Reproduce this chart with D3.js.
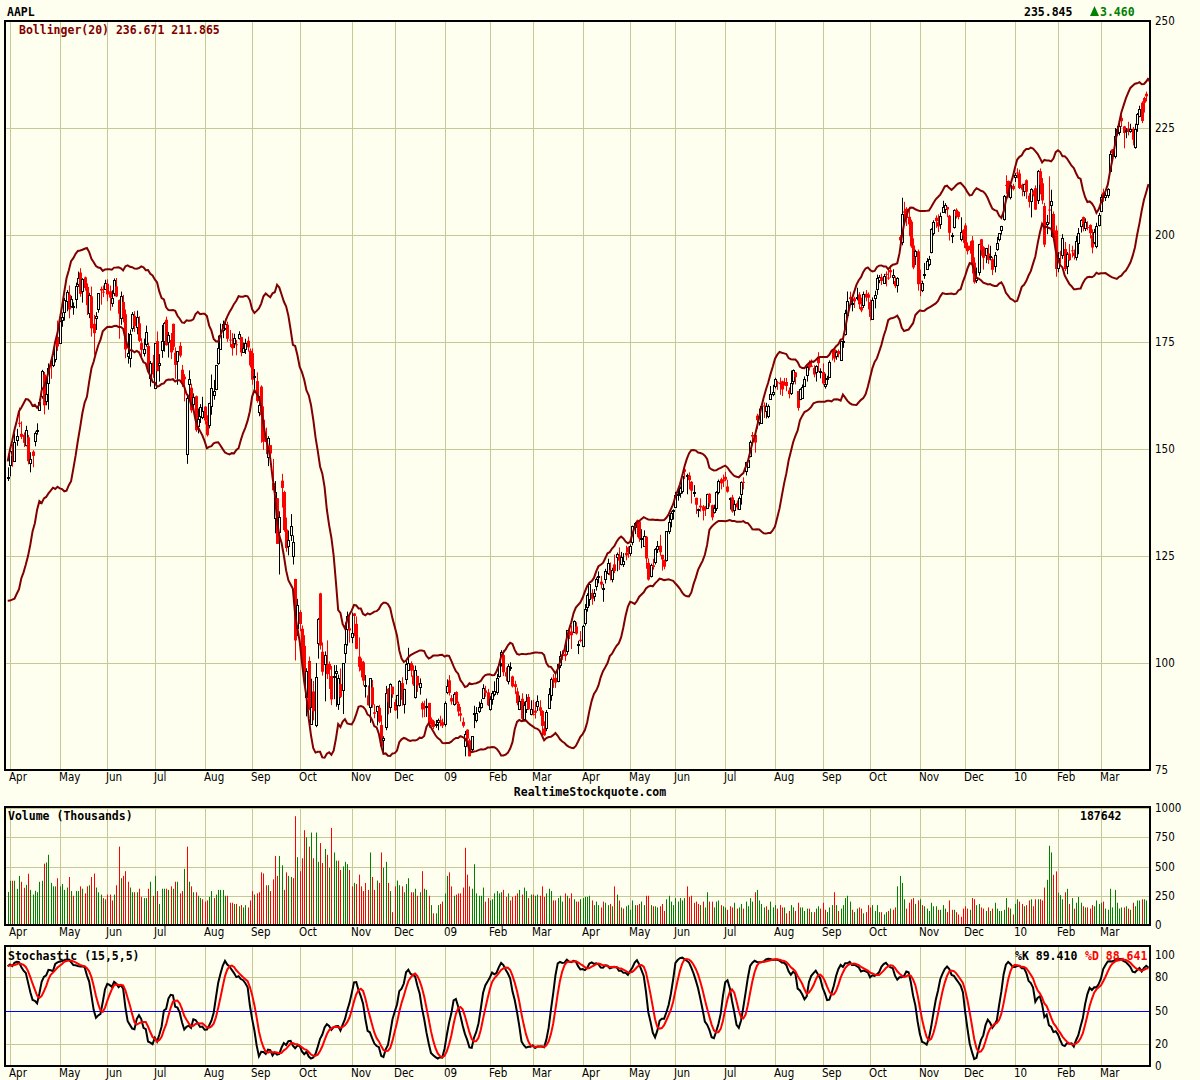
<!DOCTYPE html>
<html><head><meta charset="utf-8">
<script src="https://cdn.jsdelivr.net/npm/d3@7"></script>
<style>body{margin:0;background:#fffff0;}svg{display:block}</style>
</head><body>
<svg id="chart" width="1200" height="1080"></svg>
<script>
// ---------- DATA : [open, high, low, close, volume (x100k shares)] ----------
// warm-up days (Feb 25 - Mar 28 2008), used only for the indicators, not drawn
const warmup = [
[118.59,120.17,115.54,119.74],[117.64,121.09,115.44,119.15],[118.23,123.05,118.09,122.96],[122.28,129.98,121.73,129.91],[129.29,130.21,124.80,125.02],
[124.44,125.98,118.00,121.73],[121.99,124.88,120.40,124.62],[123.58,125.14,122.25,124.49],[124.61,127.50,120.81,120.93],[120.41,122.98,119.05,122.25],
[121.98,123.46,119.37,119.69],[124.10,127.48,122.00,127.35],[127.04,128.68,125.17,126.03],[124.10,129.50,123.00,127.94],[129.88,130.30,124.20,126.61],
[122.55,128.59,122.55,126.73],[129.18,133.00,128.67,132.82],[133.12,134.29,129.67,129.67],[130.70,133.27,129.18,133.27],
[134.01,140.85,133.64,139.53],[139.96,143.10,137.33,140.98],[140.87,145.74,140.64,145.06],[144.95,145.31,139.99,140.25],[141.80,144.65,141.60,143.01]
];
const mar08 = [[143.27,145.71,142.52,143.50,283]];
const apr08 = [
[146.30,149.66,143.61,149.53,378],[148.78,151.20,145.85,148.38,378],[147.06,153.63,147.00,151.61,378],[152.19,154.71,150.75,153.08,309],
[156.13,159.69,155.11,155.89,420],[153.55,156.45,152.32,152.84,369],[153.31,153.89,150.46,151.44,318],[151.13,155.42,150.60,154.55,343],
[152.72,153.30,146.40,147.14,438],[146.77,149.25,144.54,147.78,300],[149.40,149.72,145.72,148.38,260],[151.72,154.10,150.62,153.70,292],
[154.17,156.00,153.35,154.49,280],[159.12,161.64,158.95,161.04,369],[162.21,168.50,161.76,168.16,378],[167.40,168.00,158.09,160.20,524],
[161.19,166.16,160.22,162.89,535],[165.34,169.98,159.19,168.94,600],[170.65,171.10,166.42,169.73,360],[169.75,173.75,169.13,172.24,330],
[171.11,175.66,170.25,175.05,330],[176.19,180.00,172.92,173.95,400]];
const may08 = [
[174.96,180.00,174.86,180.00,330],[180.19,181.92,178.55,180.94,350],[181.92,185.31,180.00,184.73,300],[184.66,187.12,182.18,186.66,320],
[186.05,188.20,180.54,182.59,410],[183.45,185.79,183.00,185.06,290],[183.16,184.25,181.37,183.45,250],[185.21,188.87,182.85,188.16,290],
[188.61,191.45,187.86,189.96,290],[191.23,192.24,185.57,186.26,330],[186.81,189.90,184.20,189.73,310],[190.11,190.30,187.00,187.62,270],
[187.86,188.69,181.30,183.60,330],[181.76,186.50,180.57,185.90,340],[185.67,187.95,176.25,178.19,410],[179.26,181.33,172.00,177.05,440],
[180.77,181.99,177.80,181.17,320],[182.75,186.43,181.84,186.43,280],[187.41,187.95,183.72,187.01,260],[186.76,188.20,185.50,186.69,230],
[187.45,189.54,187.38,188.75,220]];
const jun08 = [
[188.60,189.65,184.53,186.10,260],[186.86,188.20,182.34,185.37,260],[184.02,187.09,183.23,185.19,210],[186.34,189.84,185.70,189.43,260],
[188.00,189.95,185.49,185.64,340],[184.79,184.94,175.75,181.61,670],[180.51,186.78,179.02,185.64,400],[184.34,186.00,179.59,180.81,420],
[181.49,182.60,171.20,173.26,460],[171.64,177.11,169.95,172.37,370],[171.30,177.90,169.07,176.84,320],[178.10,181.99,177.41,181.43,280],
[181.12,182.20,177.35,178.75,280],[178.55,182.34,176.80,180.90,280],[179.35,181.00,175.00,175.27,310],[174.74,175.88,171.56,173.16,240],
[172.37,175.78,171.63,173.25,230],[174.61,178.83,173.88,177.39,230],[174.07,174.84,168.01,168.26,310],[166.51,170.57,164.59,170.09,370],
[170.19,172.00,166.62,167.44,250]];
const jul08 = [
[164.23,174.72,164.00,174.68,420],[175.20,177.45,168.18,168.18,290],[169.59,172.17,165.75,170.12,180],[173.16,179.00,171.30,175.16,310],
[175.40,179.70,172.74,179.55,310],[180.20,180.91,174.14,174.25,310],[174.92,177.34,171.37,176.63,300],[175.47,177.11,171.00,172.58,330],
[179.24,179.30,173.08,173.88,310],[172.48,173.74,166.39,169.64,370],[170.50,172.90,165.00,172.81,370],[174.10,174.98,171.39,171.81,270],
[168.52,169.65,164.50,165.15,290],[166.90,167.50,161.12,166.29,480],[149.00,162.76,146.53,162.02,670],[164.99,168.37,161.56,166.26,370],
[164.32,165.26,158.45,159.03,330],[160.40,163.00,158.65,162.12,280],[162.34,162.47,154.02,154.40,280],[155.41,159.45,153.65,157.08,250],
[157.78,160.49,156.08,159.88,230],[157.54,162.20,156.98,158.95,220]];
const aug08 = [
[159.90,159.99,155.75,156.66,200],[156.60,157.90,152.91,153.23,210],[155.42,160.80,154.82,160.64,240],[159.97,167.40,158.00,164.19,290],
[162.71,166.15,161.50,163.57,230],[163.86,169.65,163.75,169.55,260],[170.07,176.50,169.67,173.56,300],[173.52,179.29,173.51,176.73,300],
[177.98,180.00,175.90,179.30,300],[178.33,180.45,177.84,179.32,250],[179.04,179.75,175.05,175.74,250],[175.57,177.81,173.82,175.39,190],
[174.54,177.07,171.81,173.53,190],[174.77,176.94,173.61,175.84,180],[174.47,175.45,171.89,174.29,180],[175.82,177.50,175.57,176.79,160],
[176.15,176.23,171.66,172.55,170],[172.76,174.88,172.61,173.64,150],[173.31,175.76,172.19,174.67,170],[175.28,176.25,172.75,173.74,150],
[172.96,173.50,169.04,169.53,210]];
const sep08 = [
[172.40,173.50,165.00,166.19,290],[166.84,168.68,164.00,166.96,260],[165.86,167.91,160.81,161.22,270],[158.59,162.40,157.65,160.18,280],
[164.57,164.89,151.46,157.92,450],[156.86,159.96,149.79,151.68,440],[152.32,154.99,148.80,151.61,340],[148.18,152.99,146.00,152.65,340],
[150.91,150.91,146.50,148.94,290],[142.03,147.69,140.36,140.36,390],[133.86,142.50,130.30,139.88,590],[138.49,138.51,127.83,127.83,420],
[130.57,135.43,120.68,134.09,590],[142.60,144.20,136.31,140.91,510],[139.94,140.25,130.66,131.05,300],[131.21,133.99,126.00,126.84,450],
[127.27,130.95,125.15,128.71,420],[129.80,134.79,128.52,131.93,410],[124.91,129.80,123.00,128.24,400],[119.62,119.68,100.59,105.26,930],
[108.25,115.00,106.30,113.66,580]];
const oct08 = [
[111.92,112.36,107.39,109.12,460],[108.01,108.79,100.00,100.10,570],[104.00,106.50,94.65,97.07,810],[91.96,98.78,87.54,98.14,750],
[100.48,101.50,88.95,89.16,670],[85.91,96.33,85.68,89.79,790],[93.35,95.80,86.60,88.74,570],[85.70,100.00,85.00,96.80,790],
[104.55,110.53,101.02,110.26,540],[116.26,116.40,103.14,104.08,700],[102.63,104.81,97.05,97.95,530],[99.78,102.70,91.05,101.89,650],
[99.52,105.29,96.26,97.40,600],[99.78,100.35,93.93,98.44,490],[96.97,99.30,90.15,91.49,830],[96.75,99.50,91.54,96.87,620],
[97.80,99.50,89.79,98.23,550],[90.31,97.29,89.05,96.38,550],[95.07,98.72,91.80,92.09,470],[93.50,99.95,88.07,99.91,500],
[102.52,109.50,100.00,104.55,540],[108.00,112.00,104.05,111.04,520],[108.10,110.96,104.76,107.59,470]];
const nov08 = [
[105.93,111.79,104.63,106.96,330],[111.58,111.66,106.25,110.99,360],[109.14,110.88,103.23,103.30,350],[101.50,105.98,98.02,99.10,430],
[100.37,101.10,96.63,98.24,330],[100.17,100.51,94.73,95.88,290],[94.62,97.18,91.91,94.77,360],[92.43,94.75,90.06,90.12,300],
[89.71,96.44,86.02,96.44,620],[94.32,96.04,89.55,90.24,410],[88.48,90.35,87.08,88.14,300],[88.82,90.00,85.41,89.91,380],
[89.53,90.21,85.96,86.29,360],[85.50,87.76,80.00,80.49,620],[82.00,82.90,79.14,82.58,490],[84.91,94.65,84.30,92.95,540],
[93.98,94.16,88.00,90.80,360],[89.59,95.25,88.36,95.00,290],[94.48,94.48,91.88,92.67,110]];
const dec08 = [
[90.88,91.50,88.82,88.93,330],[90.22,92.55,86.99,92.47,380],[90.30,96.00,89.83,95.90,340],[95.31,96.66,90.00,91.41,330],
[90.61,94.00,88.19,94.00,280],[96.27,100.50,95.00,99.72,350],[98.52,103.55,98.31,100.06,400],[99.99,100.39,96.78,98.21,280],
[97.08,99.47,94.65,95.00,280],[92.05,99.40,91.69,98.27,310],[96.99,97.00,93.25,94.75,250],[94.52,96.40,92.60,95.43,280],
[90.63,91.00,87.24,89.16,460],[89.76,91.20,87.35,89.43,310],[89.92,91.69,87.40,90.00,300],[90.68,90.68,84.88,85.74,250],
[86.84,87.29,85.32,86.38,170],[86.42,86.71,84.55,85.04,100],[85.70,86.70,84.85,85.81,100],[86.12,87.00,84.29,86.61,170],
[86.61,87.67,85.21,86.29,180],[86.17,87.00,84.80,85.35,200]];
const jan09 = [
[85.88,91.04,85.16,90.75,270],[93.17,96.18,92.71,94.58,420],[95.95,97.17,92.39,93.02,450],[91.81,92.50,90.26,91.01,330],
[90.43,93.15,90.04,92.70,250],[93.21,93.40,90.40,90.58,260],[90.46,90.99,87.55,88.66,270],[88.24,89.74,86.35,87.71,270],
[86.24,87.25,84.91,85.33,320],[80.57,84.12,78.20,83.38,660],[84.43,84.50,80.50,82.33,430],[81.94,82.33,78.20,78.20,330],
[79.68,82.92,79.12,82.83,310],[88.03,90.00,84.77,88.36,520],[86.82,89.70,86.11,88.36,270],[88.80,90.97,88.30,89.64,250],
[89.91,91.52,89.35,90.73,250],[91.85,95.04,91.56,94.20,320],[93.58,94.68,92.11,93.00,200],[93.14,93.96,89.91,90.13,230]];
const feb09 = [
[89.10,92.24,88.86,91.51,210],[91.48,93.50,90.26,92.98,220],[92.79,95.72,92.21,93.55,270],[93.24,97.45,92.56,96.46,290],
[96.83,100.60,96.59,99.72,270],[100.00,103.00,99.18,102.51,280],[101.86,102.98,96.95,97.83,300],[97.85,98.97,95.80,96.82,240],
[95.84,99.75,95.00,99.27,270],[98.99,100.17,98.16,99.16,210],[96.87,97.04,94.28,94.53,240],[95.05,95.85,92.72,94.37,250],
[93.37,94.25,90.11,90.64,270],[89.40,92.40,89.00,91.20,300],[91.65,92.92,86.51,86.95,260],[86.98,90.95,86.50,90.25,320],
[89.22,92.71,88.31,91.16,290],[92.07,92.76,89.05,89.19,230],[88.20,91.28,87.77,89.31,260]];
const mar09 = [
[88.12,91.41,87.71,87.94,260],[88.88,90.89,87.01,88.37,250],[89.96,92.44,88.78,91.17,260],[89.66,91.29,87.65,88.84,250],
[88.80,88.99,82.33,85.30,330],[84.69,86.40,82.99,83.11,240],[84.81,89.00,84.06,88.63,270],[89.50,94.14,89.31,92.68,310],
[92.68,96.60,91.18,96.35,290],[96.30,97.39,94.18,95.93,210],[96.53,97.39,94.18,95.42,210],[95.71,99.69,95.50,99.66,230],
[99.40,102.75,98.81,101.52,250],[101.97,102.97,100.68,101.62,200],[102.12,103.41,100.50,101.59,270],[102.86,107.70,101.91,107.66,250],
[107.13,108.75,105.60,106.50,230],[107.37,108.77,103.28,106.49,270],[107.34,109.96,106.97,109.87,220],[108.55,109.53,106.61,106.85,200],
[104.32,105.20,102.07,104.49,200],[105.45,107.45,104.83,105.12,220]];
const apr09 = [
[104.09,108.89,103.70,108.69,230],[109.40,113.76,108.73,112.71,240],[113.07,116.29,112.00,115.99,240],[114.94,118.75,113.29,118.45,250],
[116.38,117.25,113.61,115.00,210],[115.71,117.28,114.43,116.32,170],[118.00,120.00,116.90,119.57,200],[120.01,121.40,118.63,120.22,170],
[119.01,120.36,117.41,118.31,150],[117.31,118.49,114.30,117.64,200],[119.60,122.00,118.58,121.45,190],[121.11,124.37,120.59,123.42,170],
[121.73,123.49,119.30,120.50,180],[119.68,122.25,118.84,121.76,160],[123.04,125.33,121.00,121.51,330],[124.63,125.80,121.44,125.40,260],
[125.13,127.00,121.76,123.90,210],[123.12,125.95,122.80,124.73,150],[123.19,125.68,122.43,123.90,140],[125.72,127.40,123.99,125.14,160],
[127.05,127.25,124.60,125.83,170]];
const may09 = [
[125.55,127.71,124.95,127.24,130],[128.25,132.10,127.51,132.07,210],[131.88,132.97,130.10,132.71,170],[133.33,133.50,129.40,132.50,170],
[133.08,133.35,128.32,129.06,180],[129.04,131.25,126.81,129.19,200],[127.33,131.00,127.12,129.57,170],[129.50,129.69,122.02,124.42,250],
[123.40,124.44,119.26,119.49,250],[120.36,123.20,119.99,122.95,170],[122.83,124.34,121.81,122.42,160],[123.58,126.83,123.01,126.65,160],
[126.78,128.50,125.71,127.45,150],[127.39,129.95,125.05,125.87,160],[125.26,125.26,121.59,124.18,180],[124.05,124.18,121.89,122.50,120],
[123.94,130.82,123.70,130.78,220],[130.89,134.61,130.12,133.05,250],[133.57,135.46,131.69,135.07,200],[135.50,135.90,133.51,135.81,170]];
const jun09 = [
[136.47,139.99,136.39,139.35,230],[139.16,140.89,137.93,139.49,200],[139.87,141.26,138.62,140.95,230],[140.31,143.84,139.59,143.74,210],
[145.26,146.40,143.00,144.67,230],[143.82,144.23,139.43,143.85,330],[143.81,144.56,140.55,142.72,240],[142.35,142.50,137.26,140.25,250],
[139.91,141.56,138.82,139.95,190],[138.60,138.60,134.84,136.97,200],[135.91,136.05,134.06,136.09,180],[136.76,138.47,135.37,136.35,170],
[136.60,136.91,133.32,135.58,200],[136.11,136.70,134.36,135.88,150],[136.32,139.55,136.22,139.48,280],[139.54,139.65,136.51,137.37,200],
[136.88,137.00,133.32,134.01,200],[135.20,137.00,134.92,136.22,150],[136.08,140.16,135.51,139.86,200],[139.96,142.85,139.40,142.44,210],
[142.94,143.28,140.55,141.97,170],[142.73,144.00,141.10,142.43,160]];
const jul09 = [
[143.50,144.66,142.52,142.83,150],[141.25,142.83,139.79,140.02,130],[138.48,138.68,135.85,138.61,160],[138.70,139.28,135.11,135.40,150],
[135.92,138.04,134.42,137.22,190],[137.36,137.98,135.80,136.36,140],[136.05,138.92,135.88,138.52,150],[139.54,142.43,137.01,142.34,180],
[142.31,143.39,140.56,142.27,140],[144.68,147.00,143.82,146.88,200],[145.87,148.30,145.64,147.52,160],[148.43,152.00,148.06,151.75,230],
[153.27,153.99,150.81,152.91,200],[153.29,153.30,149.14,151.51,280],[157.79,158.24,154.71,156.74,300],[156.50,159.46,155.50,157.82,210],
[156.12,160.30,155.88,159.99,180],[160.17,160.88,157.25,160.10,150],[158.88,160.80,157.14,160.00,160],[157.68,160.41,157.20,160.03,130],
[161.70,164.72,161.50,162.79,200],[162.99,165.00,162.33,163.39,150]];
const aug09 = [
[164.76,166.64,164.17,166.43,170],[165.58,165.92,163.82,165.55,140],[165.52,166.71,162.66,165.11,170],[165.83,165.96,162.37,163.91,150],
[165.61,166.60,164.80,165.51,150],[165.66,166.60,163.50,164.72,100],[163.69,164.38,161.82,162.83,120],[163.05,168.34,162.60,165.31,170],
[165.86,168.58,165.08,168.42,150],[167.89,168.00,165.10,166.78,120],[163.55,163.59,158.95,159.59,190],[161.60,164.17,161.40,164.00,150],
[162.11,165.07,161.83,164.60,150],[164.74,166.96,164.50,166.33,120],[167.35,169.45,165.76,169.22,140],[170.12,170.71,168.36,169.06,140],
[169.46,170.94,169.15,169.40,110],[168.94,169.55,166.76,167.41,110],[168.00,169.57,165.76,169.45,140],[171.55,172.62,168.00,170.05,160],
[168.16,168.85,166.50,168.21,140]];
const sep09 = [
[167.99,170.00,164.94,165.30,190],[164.62,167.61,164.11,165.18,130],[166.44,167.10,165.00,166.55,110],[166.83,170.70,166.72,170.31,150],
[172.98,173.14,170.67,172.93,170],[173.28,173.50,170.25,171.14,280],[171.61,173.05,170.85,172.56,170],[172.90,173.25,171.39,172.16,120],
[170.77,175.00,170.55,175.16,140],[175.04,176.54,173.64,175.16,170],[177.00,182.53,176.50,181.87,230],[181.38,186.80,181.00,184.55,250],
[185.47,186.75,184.18,185.02,200],[183.92,185.63,182.16,184.02,130],[185.19,185.56,182.94,184.48,110],[185.34,187.67,184.72,185.50,140],
[186.11,186.64,182.69,183.82,150],[183.17,185.37,181.95,182.37,140],[183.50,186.77,182.94,186.15,100],[186.28,187.14,184.50,185.38,110],
[186.13,186.58,182.61,185.35,170]];
const oct09 = [
[184.33,184.94,180.00,180.86,150],[180.45,185.41,180.38,184.90,170],[185.25,186.99,182.86,186.02,120],[187.39,190.75,186.02,190.01,170],
[189.63,190.64,188.74,190.25,110],[190.13,190.94,188.33,189.27,110],[188.92,190.91,188.66,190.47,90],[190.93,191.50,188.00,190.81,110],
[190.05,192.11,189.51,190.02,120],[191.80,192.99,190.00,191.29,140],[190.00,191.98,188.50,190.56,130],[189.27,190.35,187.58,188.05,150],
[188.33,190.14,186.57,189.86,330],[199.53,200.00,197.06,198.76,420],[198.27,208.71,197.60,204.92,360],[205.52,207.75,203.00,205.20,220],
[206.12,206.50,202.09,203.94,140],[204.25,206.60,199.71,202.48,190],[203.11,203.58,197.01,197.37,220],[197.55,199.23,192.00,192.40,230],
[195.19,196.58,193.00,196.35,180],[196.19,196.60,187.00,188.50,210]];
const nov09 = [
[189.33,191.92,185.70,189.31,220],[187.20,189.32,186.65,188.75,170],[190.61,193.48,189.75,190.81,160],[192.16,194.60,191.84,194.03,140],
[193.19,195.11,192.70,194.34,120],[196.01,201.58,195.70,201.46,190],[200.31,203.44,199.84,202.98,160],[204.03,204.57,201.67,203.25,160],
[203.00,204.81,200.71,201.99,130],[202.47,205.25,201.43,204.45,130],[205.49,208.00,205.15,206.63,170],[206.08,207.44,205.00,207.00,140],
[206.53,206.64,204.16,205.96,110],[204.50,204.70,198.70,200.51,210],[199.66,200.51,198.10,199.92,130],[201.83,205.99,201.51,205.88,130],
[205.89,206.23,203.86,204.44,110],[205.40,205.57,203.64,204.19,90],[199.05,204.13,198.51,200.59,70],[201.12,201.36,198.16,199.91,140]];
const dec09 = [
[202.24,202.77,196.83,196.97,160],[197.51,198.28,195.45,196.23,140],[197.49,198.57,195.64,196.48,130],[198.74,199.74,191.00,193.32,230],
[193.56,194.78,188.61,188.95,220],[189.30,192.40,188.76,189.87,170],[191.33,197.95,190.52,197.80,180],[199.00,199.10,195.15,196.43,150],
[197.15,197.39,191.91,194.67,140],[195.27,196.98,193.42,196.98,120],[195.66,197.77,193.24,194.17,150],[194.72,197.49,194.05,195.03,120],
[194.36,194.84,190.63,191.86,140],[192.83,196.00,191.26,195.43,190],[196.76,199.58,196.31,198.23,140],[199.00,200.45,198.50,200.36,120],
[201.20,202.14,200.08,202.10,120],[203.55,209.35,203.35,209.04,130],[211.72,213.95,209.61,211.61,230],[212.63,212.72,208.73,209.10,150],
[208.83,212.00,208.31,211.64,140],[211.47,211.98,210.40,210.73,90]];
const jan10 = [
[213.43,214.50,212.38,214.01,180],[214.60,215.59,213.25,214.38,220],[214.38,215.23,210.75,210.97,200],[211.75,212.00,209.05,210.58,180],
[210.30,212.00,209.06,211.98,160],[212.80,213.00,208.45,210.11,170],[209.19,209.77,206.42,207.72,210],[207.87,210.93,204.10,210.65,220],
[210.11,210.46,209.02,209.43,160],[210.93,211.60,205.87,205.93,220],[208.33,215.19,207.24,215.04,220],[214.91,215.55,209.50,211.73,220],
[212.08,213.31,207.21,208.07,210],[206.78,207.50,197.16,197.75,320],[202.51,204.70,200.19,203.08,386],[205.95,213.71,202.58,205.94,678],
[206.85,210.58,199.53,207.88,620],[204.93,205.50,198.70,199.29,429],[201.08,202.20,190.25,192.06,458]];
const feb10 = [
[192.37,196.00,191.30,194.73,277],[195.91,196.32,193.38,195.86,255],[195.17,200.20,194.42,199.23,220],[196.73,198.37,191.57,192.05,280],
[192.63,196.00,190.85,195.46,309],[195.69,197.88,193.99,194.12,180],[196.42,197.50,194.75,196.19,230],[195.89,196.60,194.26,195.12,140],
[194.88,199.75,194.06,198.67,190],[198.11,201.64,195.50,200.38,240],[201.94,203.69,200.57,203.40,190],[204.19,204.31,200.86,202.55,160],
[201.63,203.89,200.92,202.93,150],[201.86,203.20,201.11,201.67,150],[202.34,202.50,199.19,200.42,140],[199.98,201.33,195.71,197.06,170],
[198.23,201.44,197.84,200.66,160],[197.38,202.86,196.89,202.00,210],[202.38,205.17,202.00,204.62,180]];
const mar10 = [
[205.75,209.50,205.45,208.99,190],[209.93,210.83,207.74,208.85,200],[208.94,209.87,207.94,209.33,140],[209.28,210.92,208.63,210.71,130],
[214.94,219.70,214.63,218.95,310],[220.01,220.09,217.65,219.08,150],[218.31,225.00,217.89,223.02,300],[223.83,225.48,223.20,224.84,190],
[223.99,225.93,223.28,225.50,140],[227.37,228.00,225.25,226.60,150],[225.38,225.50,220.25,223.84,150],[224.18,225.00,222.61,224.45,160],
[224.90,226.45,223.27,224.12,140],[224.10,226.00,223.88,224.65,130],[224.79,225.24,220.93,222.25,190],[220.47,226.00,220.15,224.75,160],
[225.94,228.50,224.10,228.36,210],[227.64,230.20,227.51,229.37,210],[230.92,231.25,226.15,226.65,220],[232.00,232.30,228.60,230.90,220],
[233.00,233.50,231.20,232.39,210],[236.60,237.50,234.50,235.84,188]];

const monthArrays = [mar08,apr08,may08,jun08,jul08,aug08,sep08,oct08,nov08,dec08,jan09,feb09,mar09,apr09,may09,jun09,jul09,aug09,sep09,oct09,nov09,dec09,jan10,feb10,mar10];
const monthLabels = ["Apr","May","Jun","Jul","Aug","Sep","Oct","Nov","Dec","09","Feb","Mar","Apr","May","Jun","Jul","Aug","Sep","Oct","Nov","Dec","10","Feb","Mar"];
const priceTicks = [75,100,125,150,175,200,225,250];
const volumeTicks = [0,250,500,750,1000];
const stochTicks = [0,20,50,80,100];
const header = {sym:"AAPL", last:"235.845", chg:"3.460", boll:"Bollinger(20) 236.671 211.865", vol:"187642", k:"89.410", d:"88.641"};

// ---------- PREP ----------
const bars = monthArrays.flat().map((r,k)=>({k,o:r[0],h:r[1],l:r[2],c:r[3],v:r[4]}));
const W = warmup.length;
const allH = warmup.map(r=>r[1]).concat(bars.map(b=>b.h));
const allL = warmup.map(r=>r[2]).concat(bars.map(b=>b.l));
const allC = warmup.map(r=>r[3]).concat(bars.map(b=>b.c));
const monthStarts = [];
{let acc=0; monthArrays.forEach((m,i)=>{ if(i>0) monthStarts.push(acc); acc+=m.length; });}

// Bollinger (20, 2)
const boll = bars.map(b=>{
  const idx=b.k+W; const win=allC.slice(idx-19,idx+1);
  const m=d3.mean(win); const sd=Math.sqrt(d3.mean(win,v=>(v-m)*(v-m)));
  return {k:b.k, up:m+2*sd, lo:m-2*sd};
});
// Stochastic (15,5,5)
const raw=[], sk=[], sd=[];
for(let i=0;i<allC.length;i++){
  if(i>=14){const hh=d3.max(allH.slice(i-14,i+1)), ll=d3.min(allL.slice(i-14,i+1)); raw[i]=100*(allC[i]-ll)/(hh-ll);}
  if(i>=18) sk[i]=d3.mean(raw.slice(i-4,i+1));
  if(i>=22) sd[i]=d3.mean(sk.slice(i-4,i+1));
}
const stoch = bars.map(b=>({k:b.k, K:sk[b.k+W], D:sd[b.k+W]}));

// ---------- DRAW ----------
const svg=d3.select("#chart");
const BG="#fffff0", GRID="#c8c896", BAND="#800000";
const FB="'DejaVu Sans Mono','Liberation Mono',monospace";
const FN="'DejaVu Sans Condensed','Liberation Sans Narrow','DejaVu Sans',sans-serif";
svg.append("rect").attr("width",1200).attr("height",1080).attr("fill",BG);

const L=5, R=1150;
const x=d3.scaleLinear().domain([0,504]).range([7.7,1148.5]);
const yP=d3.scaleLinear().domain([75,250]).range([770,21]);
const yV=d3.scaleLinear().domain([0,1000]).range([925,808]);
const yS=d3.scaleLinear().domain([0,100]).range([1066,955]);

function panel(top,bottom,yScale,hTicks,labels,labelFmt){
  const g=svg.append("g");
  g.append("rect").attr("x",L).attr("y",top).attr("width",R-L).attr("height",bottom-top).attr("fill",BG);
  g.selectAll("line.v").data(monthStarts).join("line")
    .attr("x1",d=>Math.round(x(d))+0.5).attr("x2",d=>Math.round(x(d))+0.5)
    .attr("y1",top).attr("y2",bottom).attr("stroke",GRID).attr("stroke-width",1);
  g.selectAll("line.h").data(hTicks).join("line")
    .attr("x1",L).attr("x2",R).attr("y1",d=>Math.round(yScale(d))+0.5).attr("y2",d=>Math.round(yScale(d))+0.5)
    .attr("stroke",GRID).attr("stroke-width",1);
  g.selectAll("text.m").data(monthStarts).join("text")
    .attr("x",d=>Math.round(x(d))-1).attr("y",bottom+11).text((d,i)=>monthLabels[i])
    .attr("font-family",FN).attr("font-size",11.5).attr("fill","#000");
  g.selectAll("text.r").data(labels).join("text")
    .attr("x",R+5).attr("y",d=>yScale(d)+4).text(labelFmt)
    .attr("font-family",FN).attr("font-size",11.5).attr("fill","#000");
  return g;
}
function border(top,bottom){
  svg.append("rect").attr("x",L).attr("y",top).attr("width",R-L).attr("height",bottom-top)
    .attr("fill","none").attr("stroke","#000").attr("stroke-width",2);
}
function clip(id,top,bottom){
  svg.append("clipPath").attr("id",id).append("rect").attr("x",L).attr("y",top).attr("width",R-L).attr("height",bottom-top);
}

// ---- main price panel
panel(21,770,yP,priceTicks.filter(t=>t>75&&t<250),priceTicks,d=>d);
clip("cp",21,770);
const gp=svg.append("g").attr("clip-path","url(#cp)");
const cx=d=>Math.round(x(d.k));
gp.selectAll("line.w").data(bars).join("line")
  .attr("x1",d=>cx(d)+0.5).attr("x2",d=>cx(d)+0.5)
  .attr("y1",d=>yP(Math.max(d.h,d.o,d.c))).attr("y2",d=>yP(Math.min(d.l,d.o,d.c)))
  .attr("stroke",d=>d.c>=d.o?"#000":"#ff0000").attr("stroke-width",1);
gp.selectAll("rect.b").data(bars).join("rect")
  .attr("x",d=>d.c>=d.o?cx(d)-0.5:cx(d)-1)
  .attr("width",d=>d.c>=d.o?2:3)
  .attr("y",d=>{const t=yP(Math.max(d.o,d.c));return d.c>=d.o?Math.round(t)+0.5:t;})
  .attr("height",d=>{const hgt=Math.abs(yP(d.o)-yP(d.c));return d.c>=d.o?Math.max(1,Math.round(hgt)):Math.max(1,hgt);})
  .attr("fill",d=>d.c>=d.o?BG:"#ff0000")
  .attr("stroke",d=>d.c>=d.o?"#000":"none").attr("stroke-width",1);
const bandLine=key=>d3.line().x(d=>x(d.k)).y(d=>yP(d[key]));
gp.append("path").datum(boll).attr("d",bandLine("up")).attr("fill","none").attr("stroke",BAND).attr("stroke-width",2);
gp.append("path").datum(boll).attr("d",bandLine("lo")).attr("fill","none").attr("stroke",BAND).attr("stroke-width",2);
border(21,770);

// ---- volume panel
panel(807,925,yV,[250,500,750,1000],volumeTicks,d=>d);
clip("cv",807,925);
const gv=svg.append("g").attr("clip-path","url(#cv)");
gv.selectAll("line.vb").data(bars).join("line")
  .attr("x1",d=>cx(d)+0.5).attr("x2",d=>cx(d)+0.5)
  .attr("y1",yV(0)).attr("y2",d=>yV(d.v))
  .attr("stroke",d=>{const prev=d.k===0?allC[W-1]:bars[d.k-1].c;return d.c>=prev?"#008000":"#ff0000";})
  .attr("stroke-width",1);
border(807,925);

// ---- stochastic panel
panel(946,1066,yS,[20,80],stochTicks,d=>d);
clip("cs",946,1066);
const gs=svg.append("g").attr("clip-path","url(#cs)");
gs.append("line").attr("x1",L).attr("x2",R).attr("y1",Math.round(yS(50))+0.5).attr("y2",Math.round(yS(50))+0.5).attr("stroke","#0000ff").attr("stroke-width",1.2);
gs.append("path").datum(stoch).attr("d",d3.line().x(d=>x(d.k)).y(d=>yS(d.K))).attr("fill","none").attr("stroke","#000").attr("stroke-width",2);
gs.append("path").datum(stoch).attr("d",d3.line().x(d=>x(d.k)).y(d=>yS(d.D))).attr("fill","none").attr("stroke","#ff0000").attr("stroke-width",2);
border(946,1066);

// ---- texts
const T=(tx,ty,s,col,anchor)=>svg.append("text").attr("x",tx).attr("y",ty).text(s)
  .attr("font-family",FB).attr("font-weight","bold").attr("font-size",11.5).attr("fill",col||"#000").attr("text-anchor",anchor||"start");
T(7,16,header.sym);
T(1024,16,header.last);
svg.append("path").attr("d","M1090,16L1099,16L1094.5,6Z").attr("fill","#008000");
T(1100,16,header.chg,"#008000");
T(19,34,header.boll,BAND);
T(590,796,"RealtimeStockquote.com","#000","middle");
T(8,820,"Volume (Thousands)");
T(1080,820,header.vol);
T(8,960,"Stochastic (15,5,5)");
T(1015,960,"%K "+header.k);
T(1085,960,"%D "+header.d,"#ff0000");
</script>
</body></html>
